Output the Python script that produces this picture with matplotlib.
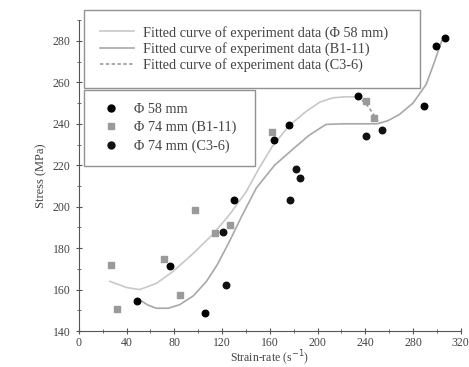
import matplotlib
matplotlib.use("Agg")
import matplotlib.pyplot as plt
from matplotlib.lines import Line2D
from matplotlib.ticker import MultipleLocator

plt.rcParams['font.family'] = ['Liberation Serif', 'DejaVu Serif']

# Data points
phi58_x = [48.8, 76.7, 106, 130, 176, 163.4, 233.5, 289, 299, 306.9]
phi58_y = [154.3, 171.2, 148.7, 203, 239.4, 232, 253.4, 248.5, 277.5, 281.5]

b111_x = [27.3, 32.4, 71, 84.5, 97, 113.8, 126.4, 162, 240.7, 247]
b111_y = [172, 150.8, 175, 157.5, 198.6, 187.3, 191.4, 236, 251, 243]

c36_x = [120.8, 123, 177, 181.6, 185, 240.7, 254]
c36_y = [188, 162.4, 203, 218, 214, 234, 237]

# Fitted curves
fit58_x = [26, 40, 51, 65, 79, 95, 112, 126, 140, 151, 162, 176, 190.5, 202, 212.6, 222, 231]
fit58_y = [164, 161, 160, 163, 168.8, 177, 186.5, 196, 207, 218.5, 229, 239, 246, 250.5, 252.5, 253, 253]

fitb_x = [51, 58, 65, 75, 84.5, 96, 107, 116, 126, 137, 148.7, 164, 179, 193, 207, 222, 236, 250, 259, 268.6, 280, 291, 298, 304]
fitb_y = [155, 152.5, 151, 151, 152.7, 157, 164, 172, 183, 196, 209, 220, 227.6, 234.5, 239.7, 240, 240, 240, 241.5, 244.5, 250, 259, 270, 280]

fitc_x = [233, 238, 243, 248, 252]
fitc_y = [253, 251, 248, 243.5, 240]

fig = plt.figure(figsize=(4.69, 3.67), dpi=100)
ax = fig.add_axes([0.168, 0.098, 0.8145, 0.847])

ax.plot(fit58_x, fit58_y, color='#c8c8c8', lw=1.2)
ax.plot(fitb_x, fitb_y, color='#a8a8a8', lw=1.2)
ax.plot(fitc_x, fitc_y, color='#999999', lw=1.2, ls=(0, (2, 1.5)))

ax.scatter(b111_x, b111_y, marker='s', s=16, color='#9a9a9a', zorder=3)
ax.scatter(phi58_x, phi58_y, marker='o', s=22, color='black', zorder=4)
ax.scatter(c36_x, c36_y, marker='o', s=22, color='#111111', zorder=4)

ax.set_xlim(0, 320)
ax.set_ylim(140, 290)
ax.xaxis.set_major_locator(MultipleLocator(40))
ax.xaxis.set_minor_locator(MultipleLocator(20))
ax.yaxis.set_major_locator(MultipleLocator(20))
ax.yaxis.set_minor_locator(MultipleLocator(10))
ax.set_yticks(range(140, 290, 20))
ax.spines['top'].set_visible(False)
ax.spines['right'].set_visible(False)
ax.tick_params(which='both', direction='inout', labelsize=8.5, color='#555555', labelcolor='#444444')
ax.tick_params(which='major', length=5)
ax.tick_params(which='minor', length=3)
ax.tick_params(axis='x', pad=2)
for s in ['left', 'bottom']:
    ax.spines[s].set_color('#555555')

ax.set_xlabel('Strain-rate (s$^{-1}$)', fontsize=8.5, color='#444444', labelpad=0)
ax.set_ylabel('Stress (MPa)', fontsize=9, color='#444444', labelpad=4)

h1 = [Line2D([], [], color='#c8c8c8', lw=1.2),
      Line2D([], [], color='#a8a8a8', lw=1.2),
      Line2D([], [], color='#999999', lw=1.2, ls=(0, (2, 1.5)))]
l1 = ['Fitted curve of experiment data (Φ 58 mm)',
      'Fitted curve of experiment data (B1-11)',
      'Fitted curve of experiment data (C3-6)']
leg1 = fig.legend(h1, l1, loc='upper left', bbox_to_anchor=(0.179, 0.5, 0.716, 0.473),
                  mode='expand', fontsize=10.3,
                  frameon=True, fancybox=False, edgecolor='#777777', handlelength=2.4,
                  handletextpad=0.6, labelspacing=0.15, borderpad=1.1, borderaxespad=0,
                  labelcolor='#444444')
leg1.get_frame().set_linewidth(1.0)

h2 = [Line2D([], [], marker='o', ls='', color='black', markersize=5),
      Line2D([], [], marker='s', ls='', color='#9a9a9a', markersize=4),
      Line2D([], [], marker='o', ls='', color='#111111', markersize=5)]
l2 = ['Φ 58 mm', 'Φ 74 mm (B1-11)', 'Φ 74 mm (C3-6)']
leg2 = fig.legend(h2, l2, loc='upper left', bbox_to_anchor=(0.179, 0.3, 0.3646, 0.455),
                  mode='expand', fontsize=10.3,
                  frameon=True, fancybox=False, edgecolor='#777777', handlelength=2.0,
                  handletextpad=0.6, labelspacing=0.35, borderpad=0.9, borderaxespad=0,
                  labelcolor='#444444')
leg2.get_frame().set_linewidth(1.0)

fig.savefig('out.png', dpi=100)
